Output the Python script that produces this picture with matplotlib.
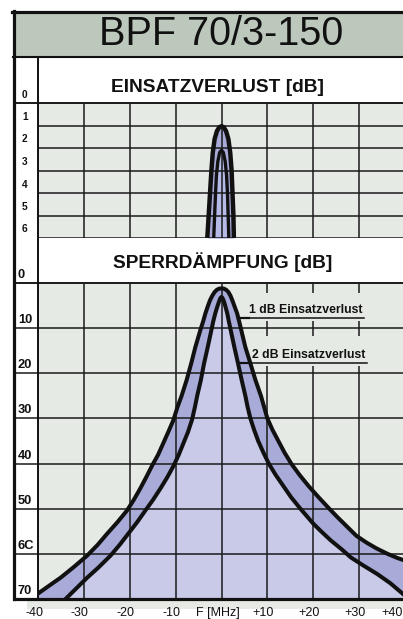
import matplotlib
matplotlib.use('Agg')
import matplotlib.pyplot as plt
from matplotlib.transforms import blended_transform_factory

# ---------------- data ----------------
freq_ticks = [-40, -30, -20, -10, 0, 10, 20, 30, 40]
freq_labels = ['-40', '-30', '-20', '-10', 'F [MHz]', '+10', '+20', '+30', '+40']

# upper panel: Einsatzverlust [dB]   (MHz, dB)
il_ticks = [0, 1, 2, 3, 4, 5, 6]
il_labels = ['0', '1', '2', '3', '4', '5', '6']
il_1db = [(-3.1, 6.0), (-2.8, 5.0), (-2.5, 4.0), (-2.2, 3.0), (-1.9, 2.2), (-1.5, 1.6),
          (-1.0, 1.25), (-0.5, 1.08), (0.0, 1.03), (0.5, 1.08), (1.0, 1.25), (1.5, 1.6),
          (1.9, 2.2), (2.2, 3.0), (2.4, 4.0), (2.6, 5.0), (2.7, 6.0)]
il_2db = [(-1.7, 6.0), (-1.5, 5.0), (-1.3, 4.0), (-1.1, 3.2), (-0.8, 2.6), (-0.4, 2.2),
          (0.0, 2.1), (0.4, 2.2), (0.8, 2.6), (1.1, 3.2), (1.3, 4.0), (1.45, 5.0),
          (1.6, 6.0)]

# lower panel: Sperrdaempfung [dB]   (MHz, dB)
sd_ticks = [0, 10, 20, 30, 40, 50, 60, 70]
sd_labels = ['0', '10', '20', '30', '40', '50', '6C', '70']
# 1 dB version (wide curve)
sd_1db = [(-40.0, 68.8), (-37.5, 67.0), (-35.1, 65.3), (-32.3, 63.0), (-29.3, 60.4),
          (-27.0, 58.0), (-24.9, 55.5), (-22.7, 53.0), (-20.6, 50.4), (-19.1, 48.0),
          (-17.7, 45.5), (-16.4, 43.0), (-15.1, 40.4), (-13.8, 38.0), (-12.7, 35.5),
          (-11.6, 33.0), (-10.5, 30.4), (-9.6, 27.5), (-8.7, 25.0), (-7.6, 21.5),
          (-6.6, 17.8), (-5.7, 14.2), (-4.6, 10.4), (-4.0, 8.5), (-3.5, 6.7),
          (-3.0, 5.2), (-2.5, 3.8), (-2.0, 2.8), (-1.5, 2.0), (-1.0, 1.5),
          (-0.5, 1.25), (0.0, 1.2), (0.5, 1.25), (1.0, 1.5), (1.5, 2.0), (1.95, 2.8),
          (2.35, 3.8), (2.85, 5.2), (3.4, 6.7), (3.85, 8.5), (4.3, 10.4), (5.2, 14.2),
          (6.3, 17.8), (7.4, 21.5), (8.6, 25.0), (9.3, 27.5), (10.0, 30.0),
          (11.1, 32.5), (12.4, 35.0), (13.7, 37.5), (15.2, 40.0), (17.0, 42.5),
          (19.0, 45.0), (21.2, 47.5), (23.5, 50.0), (25.4, 52.0), (27.4, 54.0),
          (29.4, 56.0), (31.6, 57.5), (33.8, 58.8), (36.2, 60.0), (38.3, 60.9),
          (40.0, 61.5)]
# 2 dB version (narrow curve)
sd_2db = [(-34.0, 70.0), (-31.5, 67.5), (-29.3, 65.3), (-26.8, 63.0), (-24.2, 60.4),
          (-22.2, 58.0), (-20.3, 55.5), (-18.4, 53.0), (-16.6, 50.4), (-14.9, 48.0),
          (-13.3, 45.5), (-11.8, 43.0), (-10.4, 40.4), (-9.3, 38.0), (-8.3, 35.5),
          (-7.3, 33.0), (-6.4, 30.2), (-5.8, 27.5), (-5.3, 25.0), (-4.5, 21.5),
          (-3.8, 17.8), (-3.0, 14.2), (-2.2, 10.4), (-1.8, 8.5), (-1.35, 6.7),
          (-0.9, 5.2), (-0.5, 4.0), (-0.2, 3.3), (0.0, 3.1), (0.2, 3.3), (0.5, 4.0),
          (0.85, 5.2), (1.25, 6.7), (1.6, 8.5), (2.0, 10.4), (2.8, 14.2), (3.6, 17.8),
          (4.4, 21.5), (5.2, 25.0), (5.7, 27.5), (6.3, 30.0), (7.1, 32.5), (8.0, 35.0),
          (9.1, 37.5), (10.3, 40.0), (11.8, 42.5), (13.5, 45.0), (15.2, 47.5),
          (17.2, 50.0), (20.0, 53.3), (21.7, 55.0), (23.8, 57.0), (26.2, 59.0),
          (28.2, 60.8), (30.8, 62.5), (34.0, 64.5), (36.8, 66.5), (39.7, 69.0)]

# curve labels: (text, leader start on curve, underline start, underline end, height)
lab_1db = ('1 dB Einsatzverlust', 3.7, 5.9, 31.0, 7.8)
lab_2db = ('2 dB Einsatzverlust', 4.0, 6.3, 31.7, 17.8)

# ---------------- colours ----------------
c_title = '#BDC8BC'
c_grid_bg = '#E6EAE4'
c_band = '#A8AAD8'
c_inner = '#C8CAE8'
c_line = '#1a1a1a'

W, H = 403, 619
plt.rcParams['font.family'] = ['Liberation Sans', 'DejaVu Sans']
fig = plt.figure(figsize=(W / 100, H / 100), dpi=100)


def box(x0, y0, x1, y1):
    return [x0 / W, 1 - y1 / H, (x1 - x0) / W, (y1 - y0) / H]


def unzip(pts):
    return [p[0] for p in pts], [p[1] for p in pts]


# background layer (pixel coordinates)
bg = fig.add_axes([0, 0, 1, 1])
bg.set_xlim(0, W)
bg.set_ylim(H, 0)
bg.axis('off')
bg.add_patch(plt.Rectangle((13, 11), W - 13, 46, color=c_title, lw=0))
bg.add_patch(plt.Rectangle((27, 600), W - 27, 9, color=c_grid_bg, lw=0))
bg.text(221.5, 34, 'BPF 70/3-150', fontsize=28.5, ha='center', va='center', color='#111')
bg.text(217.5, 87, 'EINSATZVERLUST [dB]', fontsize=13.8, fontweight='bold',
        ha='center', va='center', color='#111')
bg.text(223, 262, 'SPERRDÄMPFUNG [dB]', fontsize=13.8, fontweight='bold',
        ha='center', va='center', color='#111')

# ---------------- upper panel ----------------
ax_up = fig.add_axes(box(38, 103, 405, 238))
ax_up.set_xlim(-40, 40)
ax_up.set_ylim(6, 0)
ax_up.axis('off')
ax_up.add_patch(plt.Rectangle((-40, 0), 80, 6, color=c_grid_bg, lw=0, zorder=0))
f1, a1 = unzip(il_1db)
f2, a2 = unzip(il_2db)
ax_up.fill_between(f1, a1, 6, color=c_band, lw=0, zorder=1)
ax_up.fill_between(f2, a2, 6, color='#B6BAE6', lw=0, zorder=1)
ax_up.hlines(il_ticks[1:], -40, 40, color=c_line, lw=1.1, zorder=2)
ax_up.vlines(freq_ticks[1:-1], 0, 6, color=c_line, lw=1.1, zorder=2)
ax_up.plot(f1, a1, color='#111', lw=3.2, zorder=3, solid_capstyle='butt')
ax_up.plot(f2, a2, color='#111', lw=2.4, zorder=3, solid_capstyle='butt')

tr_up = blended_transform_factory(fig.transFigure, ax_up.transData)
ax_up.hlines(0, 13 / W, 1, transform=tr_up, color=c_line, lw=1.4, clip_on=False, zorder=4)
for v, lab in zip(il_ticks, il_labels):
    ax_up.annotate(lab, xy=(22 / W, v), xycoords=tr_up, xytext=(0, 8.5),
                   textcoords='offset pixels', ha='left', va='center',
                   fontsize=7.3, fontweight='bold', color='#111', annotation_clip=False)

# ---------------- lower panel ----------------
ax_lo = fig.add_axes(box(38, 283, 405, 599))
ax_lo.set_xlim(-40, 40)
ax_lo.set_ylim(70, 0)
ax_lo.axis('off')
ax_lo.add_patch(plt.Rectangle((-40, 0), 80, 70, color=c_grid_bg, lw=0, zorder=0))
g1, b1 = unzip(sd_1db)
g2, b2 = unzip(sd_2db)
ax_lo.fill_between(g1, b1, 70, color=c_band, lw=0, zorder=1)
ax_lo.fill_between(g2, b2, 70, color=c_inner, lw=0, zorder=1)

tr_lo = blended_transform_factory(fig.transFigure, ax_lo.transData)
ax_lo.hlines(sd_ticks[1:-1], 13 / W, 1, transform=tr_lo, color=c_line, lw=1.1,
             clip_on=False, zorder=2)
ax_lo.hlines(sd_ticks[0], 13 / W, 1, transform=tr_lo, color=c_line, lw=1.4,
             clip_on=False, zorder=4)
ax_lo.hlines(sd_ticks[-1], 13 / W, 1, transform=tr_lo, color='#111', lw=2.3,
             clip_on=False, zorder=4)
# left half of the grid: full verticals
ax_lo.vlines([f for f in freq_ticks[1:-1] if f <= 0], 0, 70, color=c_line, lw=1.1, zorder=2)
# right half: only ticks where the curve labels sit, full below 20 dB
right = [f for f in freq_ticks[1:-1] if f > 0]
ax_lo.vlines(right, 18.4, 70, color=c_line, lw=1.1, zorder=2)
ax_lo.vlines(right, 0, 2.2, color=c_line, lw=1.1, zorder=2)
ax_lo.vlines(right, 8.4, 11.8, color=c_line, lw=1.1, zorder=2)

ax_lo.plot(g1, b1, color='#111', lw=2.9, zorder=3, solid_joinstyle='round')
ax_lo.plot(g2, b2, color='#111', lw=2.9, zorder=3, solid_joinstyle='round')

for text, fa, fb, fc, a in (lab_1db, lab_2db):
    ax_lo.plot([fa, fb], [a, a], color='#111', lw=1.6, zorder=3)
    ax_lo.plot([fb, fc], [a, a], color='#111', lw=1.1, zorder=3)
    ax_lo.annotate(text, xy=((fb + fc) / 2, a), xytext=(0, 2.5),
                   textcoords='offset pixels', ha='center', va='bottom',
                   fontsize=8.8, fontweight='bold', color='#111')

for v, lab in zip(sd_ticks, sd_labels):
    ax_lo.annotate(lab, xy=(18 / W, v), xycoords=tr_lo, xytext=(0, 8),
                   textcoords='offset pixels', ha='left', va='center',
                   fontsize=9.3, fontweight='bold', color='#111', annotation_clip=False)

for f, lab in zip(freq_ticks, freq_labels):
    # the last label sits at the cut-off right edge: keep it inside the image
    ha, dx = ('right', -2) if f == freq_ticks[-1] else ('center', -4)
    ax_lo.annotate(lab, xy=(f, 70), xytext=(dx, -17), textcoords='offset pixels',
                   ha=ha, va='baseline', fontsize=9, color='#111',
                   annotation_clip=False)

# ---------------- frame on top ----------------
fr = fig.add_axes([0, 0, 1, 1])
fr.set_xlim(0, W)
fr.set_ylim(H, 0)
fr.axis('off')
fr.plot([12, W], [11.5, 11.5], color='#111', lw=2.3)
fr.plot([13.5, 13.5], [10.5, 599], color='#111', lw=2.3)
fr.plot([13, W], [57, 57], color='#111', lw=1.5)
fr.plot([38, 38], [57, 599], color='#111', lw=1.4)

fig.savefig('out.png', dpi=100)
